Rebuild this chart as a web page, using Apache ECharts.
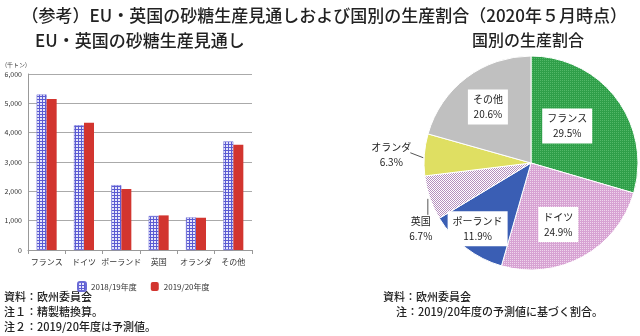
<!DOCTYPE html>
<html><head><meta charset="utf-8">
<script src="https://cdn.jsdelivr.net/npm/echarts@6/dist/echarts.min.js"></script>
<style>html,body{margin:0;padding:0;background:#fff}#c{width:640px;height:336px}</style>
</head><body><div id="c"></div>
<script>
// EU・英国の砂糖生産量（千トン）
const categories = ['フランス', 'ドイツ', 'ポーランド', '英国', 'オランダ', 'その他'];
const seriesNames = ['2018/19年度', '2019/20年度'];
const prod1819 = [5300, 4250, 2210, 1160, 1110, 3700];
const prod1920 = [5150, 4340, 2080, 1180, 1100, 3590];
const yTickValues = [0, 1000, 2000, 3000, 4000, 5000, 6000];

// 国別の生産割合（%）
const shareNames = ['フランス', 'ドイツ', 'ポーランド', '英国', 'オランダ', 'その他'];
const shareValues = [29.5, 24.9, 11.9, 6.7, 6.3, 20.6];

const FONT = '"Noto Sans CJK JP", "Noto Sans", sans-serif';

function pattern(size, bg, fg, draw) {
  const c = document.createElement('canvas');
  c.width = c.height = size;
  const g = c.getContext('2d');
  g.fillStyle = bg; g.fillRect(0, 0, size, size);
  g.fillStyle = fg; draw(g);
  return { image: c, repeat: 'repeat' };
}
const gridBlue = pattern(3, '#e6e6fb', '#5b5bd2', g => { g.fillRect(0, 0, 3, 1); g.fillRect(0, 0, 1, 3); });
const dotGreen = pattern(2, '#2f9f49', '#52b868', g => g.fillRect(0, 0, 1, 1));
const dotPink = pattern(2, '#d7a2d3', '#efd6ec', g => g.fillRect(0, 0, 1, 1));
const checkPink = pattern(2, '#ffffff', '#b58fbe', g => { g.fillRect(0, 0, 1, 1); g.fillRect(1, 1, 1, 1); });

const sliceColors = [dotGreen, dotPink, '#3a5eb4', checkPink, '#dfdf62', '#c0c0c0'];

// inside label nudges, by slice index
const insideShift = { 0: [-9, -3], 1: [0, 12], 2: [-19, 21], 5: [-9, -11] };

const headStyle = { fontSize: 17, fontWeight: 500, color: '#222', fontFamily: FONT };

const chart = echarts.init(document.getElementById('c'));
chart.setOption({
  animation: false,
  textStyle: { fontFamily: FONT },
  title: [
    { text: '（参考）EU・英国の砂糖生産見通しおよび国別の生産割合（2020年５月時点）', right: 8, top: 2, textStyle: headStyle },
    { text: 'EU・英国の砂糖生産見通し', left: 30, top: 27, textStyle: headStyle },
    { text: '国別の生産割合', left: 467, top: 27, textStyle: Object.assign({}, headStyle, { fontSize: 16 }) }
  ],
  legend: {
    data: seriesNames, left: 72, top: 276, itemWidth: 8, itemHeight: 9, itemGap: 14,
    textStyle: { fontSize: 8, color: '#333', fontFamily: FONT }
  },
  grid: { left: 28, right: 388, top: 74, bottom: 86, containLabel: false },
  xAxis: {
    type: 'category', data: categories,
    axisLine: { lineStyle: { color: '#999' } },
    axisTick: { show: true, lineStyle: { color: '#999' }, length: 4 },
    axisLabel: { fontSize: 8, color: '#333', margin: 8, interval: 0 }
  },
  yAxis: {
    type: 'value', min: yTickValues[0], max: yTickValues[yTickValues.length - 1], interval: 1000,
    axisLine: { show: true, lineStyle: { color: '#999' } },
    axisTick: { show: false },
    splitLine: { lineStyle: { color: '#aaa' } },
    axisLabel: { fontSize: 7, color: '#333', margin: 6, formatter: v => v.toLocaleString('en-US') }
  },
  series: [
    { name: seriesNames[0], type: 'bar', data: prod1819, barWidth: 10, barGap: '0%',
      itemStyle: { color: gridBlue, borderColor: '#6a6ad6', borderWidth: 0.5 } },
    { name: seriesNames[1], type: 'bar', data: prod1920, barWidth: 10,
      itemStyle: { color: '#d2352f' } },
    { type: 'pie', center: [531, 163], radius: 107, startAngle: 90, clockwise: true,
      data: shareNames.map((n, i) => ({
        name: n, value: shareValues[i],
        itemStyle: { color: sliceColors[i] },
        label: (i === 3 || i === 4)
          ? { position: 'outside', backgroundColor: 'transparent', padding: 0 }
          : { position: 'inside' },
        labelLine: { show: i === 3 || i === 4, length: 10, length2: 6, lineStyle: { color: '#555', width: 1 } }
      })),
      itemStyle: { borderColor: '#fff', borderWidth: 1 },
      label: {
        show: true, fontSize: 10, color: '#222', lineHeight: 15, align: 'center',
        backgroundColor: '#fff', padding: [3, 5, 2, 5],
        formatter: p => p.name + '\n' + p.value.toFixed(1) + '%'
      },
      labelLayout: function (p) {
        const e = p.labelLinePoints && p.labelLinePoints[0];
        if (p.dataIndex === 3 && e) {
          return { x: e[0] - 9, y: e[1] + 31, align: 'center', verticalAlign: 'middle',
            labelLinePoints: [[e[0] - 2, e[1] + 1], [e[0] - 2, e[1] + 17], [e[0] - 2, e[1] + 17]] };
        }
        if (p.dataIndex === 4 && e) {
          return { x: e[0] - 33, y: e[1], align: 'center', verticalAlign: 'middle',
            labelLinePoints: [[e[0] - 1, e[1] + 3], [e[0] - 14, e[1] - 2], [e[0] - 14, e[1] - 2]] };
        }
        const s = insideShift[p.dataIndex];
        return s ? { dx: s[0], dy: s[1] } : {};
      },
      emphasis: { disabled: true }
    }
  ],
  graphic: [
    { type: 'text', left: 5, top: 62, style: { text: '(千トン)', fontSize: 6, fill: '#444', fontFamily: FONT } },
    { type: 'text', left: 4, top: 291, style: { text: '資料：欧州委員会', fontSize: 11, fontWeight: 500, fill: '#222', fontFamily: FONT } },
    { type: 'text', left: 4, top: 306, style: { text: '注１：精製糖換算。', fontSize: 11, fontWeight: 500, fill: '#222', fontFamily: FONT } },
    { type: 'text', left: 4, top: 321, style: { text: '注２：2019/20年度は予測値。', fontSize: 11, fontWeight: 500, fill: '#222', fontFamily: FONT } },
    { type: 'text', left: 383, top: 291, style: { text: '資料：欧州委員会', fontSize: 11, fontWeight: 500, fill: '#222', fontFamily: FONT } },
    { type: 'text', left: 396, top: 306, style: { text: '注：2019/20年度の予測値に基づく割合。', fontSize: 11, fontWeight: 500, fill: '#222', fontFamily: FONT } }
  ]
});
</script>
</body></html>
